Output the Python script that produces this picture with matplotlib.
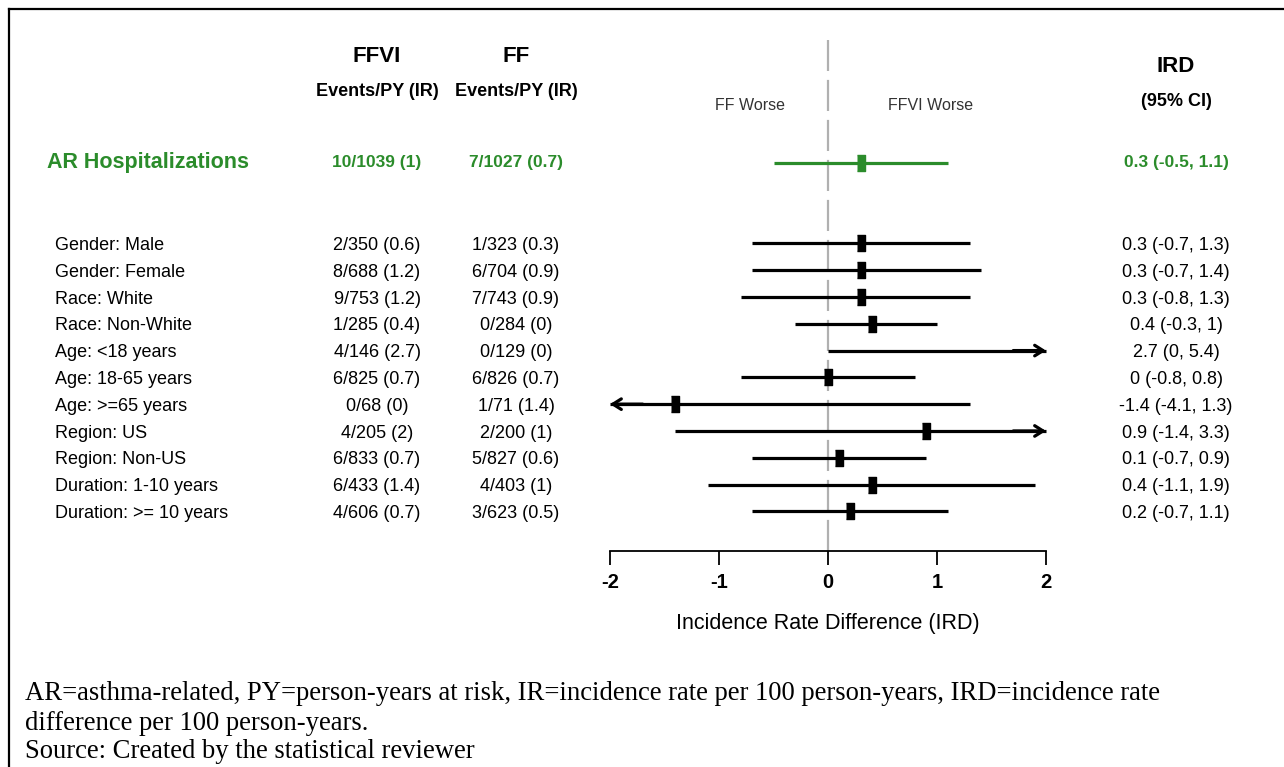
import matplotlib
matplotlib.use("Agg")
import matplotlib.pyplot as plt
import matplotlib.transforms as mtransforms
from matplotlib.lines import Line2D

SANS = ["Liberation Sans", "DejaVu Sans"]
SERIF = ["Liberation Serif", "DejaVu Serif"]
GREEN = "#2b8c2b"

# overall estimate
overall_label = "AR Hospitalizations"
overall_ffvi = "10/1039 (1)"
overall_ff = "7/1027 (0.7)"
overall_ird = 0.3
overall_lo = -0.5
overall_hi = 1.1

# subgroup rows
subgroups = ["Gender: Male", "Gender: Female", "Race: White", "Race: Non-White",
             "Age: <18 years", "Age: 18-65 years", "Age: >=65 years", "Region: US",
             "Region: Non-US", "Duration: 1-10 years", "Duration: >= 10 years"]
ffvi_text = ["2/350 (0.6)", "8/688 (1.2)", "9/753 (1.2)", "1/285 (0.4)", "4/146 (2.7)",
             "6/825 (0.7)", "0/68 (0)", "4/205 (2)", "6/833 (0.7)", "6/433 (1.4)", "4/606 (0.7)"]
ff_text = ["1/323 (0.3)", "6/704 (0.9)", "7/743 (0.9)", "0/284 (0)", "0/129 (0)",
           "6/826 (0.7)", "1/71 (1.4)", "2/200 (1)", "5/827 (0.6)", "4/403 (1)", "3/623 (0.5)"]
ird = [0.3, 0.3, 0.3, 0.4, 2.7, 0, -1.4, 0.9, 0.1, 0.4, 0.2]
ird_lo = [-0.7, -0.7, -0.8, -0.3, 0, -0.8, -4.1, -1.4, -0.7, -1.1, -0.7]
ird_hi = [1.3, 1.4, 1.3, 1, 5.4, 0.8, 1.3, 3.3, 0.9, 1.9, 1.1]

x_ticks = [-2, -1, 0, 1, 2]
x_min, x_max = -2, 2

W, H = 1284, 767
fig = plt.figure(figsize=(W / 100, H / 100), dpi=100)

# forest panel, rows run top to bottom
ax = fig.add_axes([610 / W, 1 - 551 / H, 436 / W, 511 / H])
ax.set_xlim(x_min, x_max)
ax.set_ylim(14.48, -4.59)
for side in ["top", "right", "left"]:
    ax.spines[side].set_visible(False)
ax.spines["bottom"].set_linewidth(1.3)
ax.set_yticks([])
ax.set_xticks(x_ticks)
ax.set_xticklabels([str(t) for t in x_ticks], family=SANS, fontsize=14.5, fontweight="bold")
ax.tick_params(axis="x", length=10, width=1.3, pad=6)
ax.set_xlabel("Incidence Rate Difference (IRD)", family=SANS, fontsize=15.5, labelpad=15)
ax.patch.set_alpha(0)

# reference line at zero
ax.axvline(0, color="#b0b0b0", lw=1.6, dashes=(14, 4), zorder=0)

sub_y = [3 + i for i in range(len(subgroups))]


def draw_arrow(x_from, x_to, y, color):
    ax.annotate("", xy=(x_to, y), xytext=(x_from, y),
                arrowprops=dict(arrowstyle="->,head_length=0.6,head_width=0.38",
                                color=color, lw=2.3, shrinkA=0, shrinkB=0),
                annotation_clip=False)


def draw_row(y, est, lo, hi, color):
    left = max(lo, x_min)
    right = min(hi, x_max)
    ax.plot([left, right], [y, y], color=color, lw=2.3, solid_capstyle="butt", clip_on=False)
    if lo < x_min:
        draw_arrow(x_min + 0.3, x_min, y, color)
    if hi > x_max:
        draw_arrow(x_max - 0.3, x_max, y, color)
    if x_min <= est <= x_max:
        ax.plot([est], [y], marker=[(-1, -2), (1, -2), (1, 2), (-1, 2)], markersize=12,
                color=color, linestyle="none", clip_on=False)


draw_row(0, overall_ird, overall_lo, overall_hi, GREEN)
for y, e, lo, hi in zip(sub_y, ird, ird_lo, ird_hi):
    draw_row(y, e, lo, hi, "black")

# text columns share the row positions of the forest panel
tr = mtransforms.blended_transform_factory(fig.transFigure, ax.transData)


def fmt(v):
    return f"{v:g}"


fig.text(47 / W, 0, overall_label, transform=tr, ha="left", va="center", family=SANS,
         fontsize=15.5, fontweight="bold", color=GREEN)
fig.text(377 / W, 0, overall_ffvi, transform=tr, ha="center", va="center", family=SANS,
         fontsize=12.5, fontweight="bold", color=GREEN)
fig.text(516 / W, 0, overall_ff, transform=tr, ha="center", va="center", family=SANS,
         fontsize=12.5, fontweight="bold", color=GREEN)
fig.text(1176 / W, 0, f"{fmt(overall_ird)} ({fmt(overall_lo)}, {fmt(overall_hi)})", transform=tr,
         ha="center", va="center", family=SANS, fontsize=12.5, fontweight="bold", color=GREEN)

for y, lab, a, b, e, lo, hi in zip(sub_y, subgroups, ffvi_text, ff_text, ird, ird_lo, ird_hi):
    fig.text(55 / W, y + 0.08, lab, transform=tr, ha="left", va="center", family=SANS, fontsize=13)
    fig.text(377 / W, y + 0.08, a, transform=tr, ha="center", va="center", family=SANS, fontsize=13)
    fig.text(516 / W, y + 0.08, b, transform=tr, ha="center", va="center", family=SANS, fontsize=13)
    fig.text(1176 / W, y + 0.08, f"{fmt(e)} ({fmt(lo)}, {fmt(hi)})", transform=tr, ha="center",
             va="center", family=SANS, fontsize=13)

# column headers
fig.text(377 / W, 1 - 57 / H, "FFVI", ha="center", va="center", family=SANS, fontsize=16, fontweight="bold")
fig.text(377 / W, 1 - 92 / H, "Events/PY (IR)", ha="center", va="center", family=SANS, fontsize=13, fontweight="bold")
fig.text(516 / W, 1 - 57 / H, "FF", ha="center", va="center", family=SANS, fontsize=16, fontweight="bold")
fig.text(516 / W, 1 - 92 / H, "Events/PY (IR)", ha="center", va="center", family=SANS, fontsize=13, fontweight="bold")
fig.text(1176 / W, 1 - 67 / H, "IRD", ha="center", va="center", family=SANS, fontsize=16, fontweight="bold")
fig.text(1176 / W, 1 - 101 / H, "(95% CI)", ha="center", va="center", family=SANS, fontsize=13, fontweight="bold")
fig.text(750 / W, 1 - 106 / H, "FF Worse", ha="center", va="center", family=SANS, fontsize=11.5, color="#333333")
fig.text(931 / W, 1 - 106 / H, "FFVI Worse", ha="center", va="center", family=SANS, fontsize=11.5, color="#333333")

# footnote
fig.text(25 / W, 1 - 693 / H, "AR=asthma-related, PY=person-years at risk, IR=incidence rate per 100 "
         "person-years, IRD=incidence rate", ha="left", va="center", family=SERIF, fontsize=19.2)
fig.text(25 / W, 1 - 723 / H, "difference per 100 person-years.", ha="left", va="center", family=SERIF, fontsize=19.2)
fig.text(25 / W, 1 - 752 / H, "Source: Created by the statistical reviewer", ha="left", va="center",
         family=SERIF, fontsize=19.2)

# outer frame (left and top edges)
fig.add_artist(Line2D([9 / W, 9 / W], [0, 1 - 9 / H], transform=fig.transFigure, color="black", lw=1.6))
fig.add_artist(Line2D([9 / W, 1], [1 - 9 / H, 1 - 9 / H], transform=fig.transFigure, color="black", lw=1.6))

fig.savefig("out.png", dpi=100)
